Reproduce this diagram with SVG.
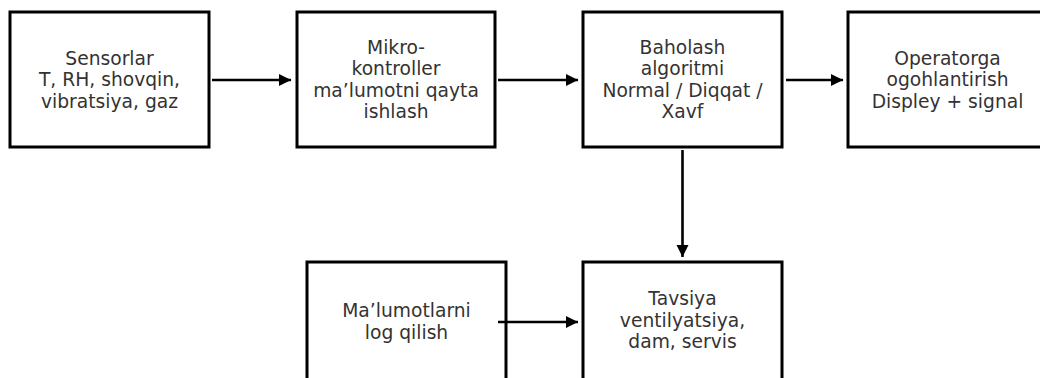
<svg xmlns="http://www.w3.org/2000/svg" width="1040" height="378" viewBox="0 0 1040 378">
<defs>
<marker id="ah" viewBox="0 0 10 10" refX="10" refY="5" markerWidth="4.8" markerHeight="4.8" markerUnits="strokeWidth" orient="auto">
<path d="M0,0 L10,5 L0,10 z" fill="#000"/>
</marker>
<style>
.box{fill:#fff;stroke:#000;stroke-width:3}
.t{font-family:"DejaVu Sans",sans-serif;font-size:18.7px;fill:#333;text-anchor:middle}
.c{stroke:#000;stroke-width:2.6;fill:none;marker-end:url(#ah)}
</style>
</defs>
<rect width="1040" height="378" fill="#fff"/>
<g id="n1"><rect class="box" x="10" y="12" width="199" height="135"/>
<text class="t" x="109.5" y="64.5">Sensorlar</text><text class="t" x="109.5" y="86">T, RH, shovqin,</text><text class="t" x="109.5" y="107.5">vibratsiya, gaz</text></g>
<g id="n2"><rect class="box" x="297" y="12" width="198" height="135"/>
<text class="t" x="396" y="53.5">Mikro-</text><text class="t" x="396" y="75">kontroller</text><text class="t" x="396" y="96.5">ma’lumotni qayta</text><text class="t" x="396" y="118">ishlash</text></g>
<g id="n3"><rect class="box" x="583" y="12" width="199" height="135"/>
<text class="t" x="682.5" y="53.5">Baholash</text><text class="t" x="682.5" y="75">algoritmi</text><text class="t" x="682.5" y="96.5">Normal / Diqqat /</text><text class="t" x="682.5" y="118">Xavf</text></g>
<g id="n4"><rect class="box" x="848" y="12" width="199" height="135"/>
<text class="t" x="947.5" y="64.5">Operatorga</text><text class="t" x="947.5" y="86">ogohlantirish</text><text class="t" x="947.5" y="107.5">Displey + signal</text></g>
<g id="n5"><rect class="box" x="307" y="262" width="199" height="135"/>
<text class="t" x="406.5" y="317">Ma’lumotlarni</text><text class="t" x="406.5" y="338.5">log qilish</text></g>
<g id="n6"><rect class="box" x="583" y="262" width="199" height="135"/>
<text class="t" x="682.5" y="305">Tavsiya</text><text class="t" x="682.5" y="326.5">ventilyatsiya,</text><text class="t" x="682.5" y="348">dam, servis</text></g>
<g id="connectors">
<line class="c" x1="212" y1="80" x2="291" y2="80"/>
<line class="c" x1="498" y1="80" x2="578" y2="80"/>
<line class="c" x1="786" y1="80" x2="843" y2="80"/>
<line class="c" x1="682.5" y1="150" x2="682.5" y2="257"/>
<line class="c" x1="498" y1="322" x2="578" y2="322"/>
</g>
</svg>
